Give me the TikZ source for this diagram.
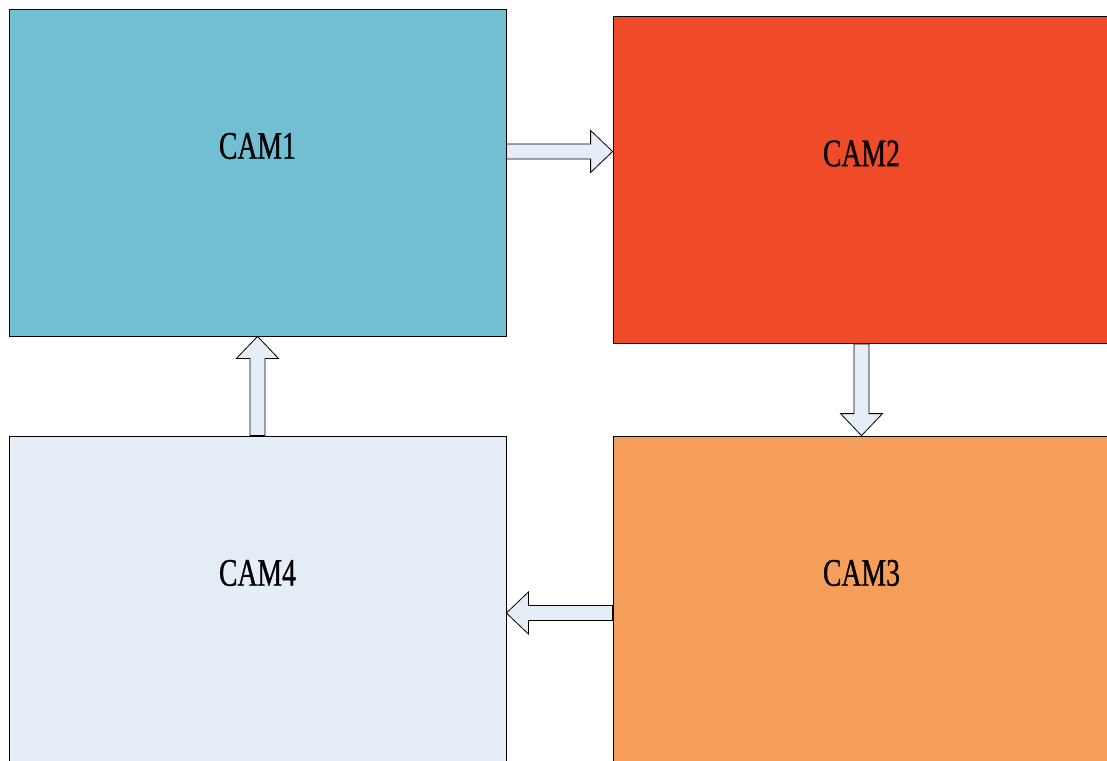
\documentclass[tikz,border=0pt]{standalone}
\usepackage{fontspec}
\usetikzlibrary{calc}
\newfontfamily\camfont[FakeStretch=0.71,FakeBold=0.8]{Liberation Serif}
\definecolor{camblue}{HTML}{72BED2}
\definecolor{camred}{HTML}{F04B28}
\definecolor{camorange}{HTML}{F49E5A}
\definecolor{camlight}{HTML}{E5EDF6}
\tikzset{
	cambox/.style={draw=black,line width=0.8pt,minimum width=497pt,minimum height=327pt,inner sep=0pt},
	camlabel/.style={font=\camfont\fontsize{39}{39}\selectfont,yshift=26.5pt},
	flowarrow/.style={draw=black,line width=0.8pt,fill=camlight,line join=miter}
}
\newcommand{\blockarrow}[2]{%
	\coordinate (ha) at ($(#2)!22pt!(#1)$);
	\draw[flowarrow] ($(#1)!7.5pt!90:(#2)$) -- ($(ha)!7.5pt!90:(#2)$) -- ($(ha)!21pt!90:(#2)$) -- (#2)
		-- ($(ha)!21pt!-90:(#2)$) -- ($(ha)!7.5pt!-90:(#2)$) -- ($(#1)!7.5pt!-90:(#2)$) -- cycle;}
\begin{document}
\begin{tikzpicture}[x=1pt,y=-1pt]
		\useasboundingbox (0,0) rectangle (1107,760);
		\clip (0,0) rectangle (1107,760);
		\node[cambox,fill=camblue,label={[camlabel]center:CAM1}] (cam1) at (257.5,172.5) {};
		\node[cambox,fill=camred,label={[camlabel]center:CAM2}] (cam2) at (861.5,180) {};
		\node[cambox,fill=camorange,label={[camlabel]center:CAM3}] (cam3) at (861.5,599.5) {};
		\node[cambox,fill=camlight,label={[camlabel]center:CAM4}] (cam4) at (257.5,599.5) {};
		\path (cam1.east) ++(0,-21) coordinate (t12);
		\path (cam3.west) ++(0,13.5) coordinate (t34);
		\blockarrow{t12}{t12 -| cam2.west}
		\blockarrow{cam2.south}{cam3.north}
		\blockarrow{t34}{t34 -| cam4.east}
		\blockarrow{cam4.north}{cam1.south}
	\end{tikzpicture}
\end{document}
